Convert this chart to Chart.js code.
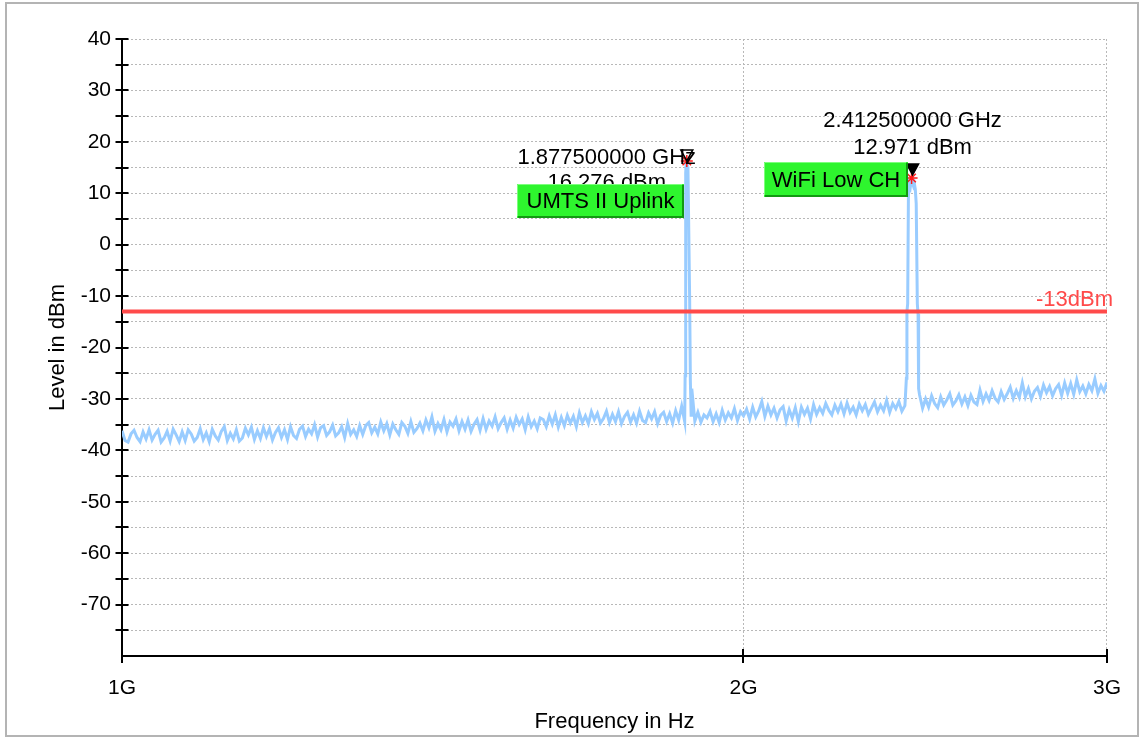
<!DOCTYPE html>
<html><head><meta charset="utf-8">
<script src="https://cdn.jsdelivr.net/npm/chart.js@4"></script>
<style>html,body{margin:0;padding:0;background:#fff;}canvas{display:block;}</style>
</head><body>
<canvas id="c" width="1141" height="740"></canvas>
<script>
// ---------- DATA ----------
const xTickValues = [1, 2, 3];            // GHz
const xTickLabels = ['1G', '2G', '3G'];
const yMin = -80, yMax = 40, yStep = 5;

// noise floor sweep segments (GHz start/stop, levels in dBm)
const seg1Start = 1.0, seg1Stop = 1.8731;
const seg1Levels = [
-36.2,-38.1,-38.4,-36.8,-36.1,-37.5,-38.3,-36.4,-37.8,-36.0,
-38.0,-36.9,-36.1,-38.4,-37.6,-36.3,-38.2,-35.9,-37.0,-38.3,
-36.4,-38.1,-36.0,-36.8,-38.2,-37.5,-35.8,-37.9,-36.6,-38.3,
-35.9,-37.2,-38.0,-36.3,-35.4,-38.1,-36.7,-37.8,-36.0,-38.2,
-37.6,-35.7,-37.0,-35.5,-37.9,-36.2,-37.7,-35.6,-37.3,-35.8,
-38.0,-36.5,-35.6,-37.5,-36.0,-37.9,-35.4,-37.1,-37.7,-35.9,
-35.3,-37.3,-35.9,-36.8,-35.0,-37.4,-35.6,-35.2,-37.1,-36.4,
-35.1,-37.2,-36.6,-35.4,-37.5,-34.8,-36.9,-36.0,-37.3,-35.2,
-36.9,-35.2,-34.6,-36.6,-35.5,-36.8,-34.5,-36.2,-34.8,-37.0,
-34.9,-36.0,-36.9,-34.6,-35.3,-36.7,-34.4,-36.5,-35.8,-34.7,
-36.2,-34.1,-35.6,-33.5,-36.3,-34.8,-36.0,-34.0,-36.4,-34.5,
-35.3,-33.9,-36.2,-34.4,-35.9,-34.1,-36.3,-34.9,-34.0,-36.1,
-33.8,-35.9,-34.3,-35.3,-33.5,-35.8,-34.6,-33.7,-35.9,-34.1,
-35.7,-33.6,-35.0,-33.9,-36.0,-33.5,-35.4,-34.3,-35.8,-33.7,
-34.0,-35.4,-33.3,-34.9,-33.1,-35.5,-33.6,-35.2,-33.2,-34.7,
-33.4,-35.4,
-32.7,-34.6,-33.3,-34.8,-32.5,-34.0,-32.8,-34.7,-33.8,-32.4,
-34.6,-33.0,-34.4,-32.5,-34.8,-33.4,-32.6,-34.5,-33.1,-34.7,
-32.4,-34.2,-34.6,-32.7,-33.9,-32.5,-34.8,-33.2,-32.6,-34.4,
-32.9,-34.7,-32.3,-34.1,-31.4,-34.4
];
const umtsFreqs  = [1.8740, 1.8752, 1.8763, 1.8775, 1.8788, 1.8800, 1.8835, 1.8850, 1.8866];
const umtsLevels = [-25.5,  14.0,   15.9,   16.276, 15.2,   14.5,   -10.5,  -26.5,  -33.2];

const seg2Start = 1.8880, seg2Stop = 2.3946;
const seg2Levels = [
-28.0,-34.3,-32.6,-34.5,-33.1,-33.7,-32.4,-34.4,-32.9,-34.6,
-32.2,-34.1,-32.7,-33.7,-31.9,-34.2,-32.5,-33.3,-32.0,-33.9,
-31.6,-33.5,-32.3,-30.5,-33.4,-31.4,-33.1,-31.8,-33.7,-32.1,
-31.5,-34.3,-32.1,-33.7,-31.7,-34.4,-31.6,-33.0,-31.8,-33.9,
-31.1,-33.0,-31.7,-32.8,-30.9,-32.2,-33.1,-31.2,-32.5,-31.0,
-32.9,-30.8,-32.6,-31.6,-33.1,-31.0,-32.3,-31.1,-33.0,-31.8,
-30.6,-32.5,-31.2,-32.3,-30.3,-32.6,-30.9,-31.9,-30.5,-32.4,-31.3
];
const wifiFreqs  = [2.3960, 2.3985, 2.4000, 2.4020, 2.4040, 2.4060, 2.4090, 2.4110, 2.4125, 2.4150, 2.4175, 2.4200, 2.4225, 2.4250, 2.4280, 2.4300, 2.4315];
const wifiLevels = [-29.5,  -26.0,  -13.0,  -11.5,  9.5,    11.8,   11.2,   12.3,   12.971, 12.0,   11.4,   11.9,   10.8,   8.0,    -11.5,  -13.5,  -28.0];

const seg3Start = 2.4340, seg3Stop = 3.0;
const seg3Levels = [
-29.2,-31.8,-30.0,-31.6,-29.4,-30.9,-31.7,-29.6,-31.2,-30.2,
-29.0,-31.2,-30.4,-29.2,-31.0,-29.6,-31.3,-29.3,-30.6,-31.1,
-28.3,-30.5,-29.0,-30.3,-28.4,-29.9,-30.6,-28.6,-30.1,-29.0,
-27.7,-29.9,-28.4,-29.7,-26.9,-29.6,-28.0,-30.0,-28.5,-27.8,
-29.5,-27.3,-28.8,-27.6,-29.4,-28.0,-27.2,-29.3,-26.9,-28.9,
-27.0,-29.1,-26.3,-28.6,-27.5,-29.0,-27.2,-28.4,-26.1,-28.9,-27.4,-28.5,-26.8
];

// limit line
const limitLevel = -13;
const limitLabel = '-13dBm';

// markers
const markerFreqs  = [1.8775, 2.4125];
const markerLevels = [16.276, 12.971];
const markerFreqText  = ['1.877500000 GHz', '2.412500000 GHz'];
const markerLevelText = ['16.276 dBm', '12.971 dBm'];
const markerNames  = ['UMTS II Uplink', 'WiFi Low CH'];

const xTitle = 'Frequency in Hz';
const yTitle = 'Level in dBm';

// ---------- STYLE ----------
const FONT = "'Liberation Sans', Arial, Helvetica, sans-serif";
const markerStyle = [
  {textDx: -80, l1Dy: -3,  l2Dy: 22,  boxDx: -170, boxDy: 23,  boxW: 167, boxH: 34, triDx: 0, triDy: 0,  triFilled: false},
  {textDx: 1,   l1Dy: -57, l2Dy: -30, boxDx: -148, boxDy: -16, boxW: 144, boxH: 35, triDx: 1, triDy: -3, triFilled: true}
];

// ---------- BUILD ----------
function sweep(start, stop, levels) {
  const n = levels.length;
  return levels.map((v, i) => ({x: start * Math.pow(stop / start, i / (n - 1)), y: v}));
}
function pairs(fs, ls) { return fs.map((f, i) => ({x: f, y: ls[i]})); }

const trace = [].concat(
  sweep(seg1Start, seg1Stop, seg1Levels),
  pairs(umtsFreqs, umtsLevels),
  sweep(seg2Start, seg2Stop, seg2Levels),
  pairs(wifiFreqs, wifiLevels),
  sweep(seg3Start, seg3Stop, seg3Levels)
);

const deco = {
  id: 'deco',
  beforeDraw(chart) {
    const c = chart.ctx;
    c.save();
    c.fillStyle = '#fff';
    c.fillRect(0, 0, chart.width, chart.height);
    c.strokeStyle = '#b4b4b4';
    c.lineWidth = 2;
    c.strokeRect(6, 3, 1132, 733);
    c.restore();
  },
  beforeDatasetsDraw(chart) {
    const c = chart.ctx, xs = chart.scales.x, ys = chart.scales.y, a = chart.chartArea;
    c.save();
    c.strokeStyle = '#000';
    c.lineWidth = 2;
    ys.ticks.forEach(t => {
      if (t.value === yMin) return;
      const y = Math.round(ys.getPixelForValue(t.value));
      c.beginPath(); c.moveTo(a.left - 6.5, y); c.lineTo(a.left + 6.5, y); c.stroke();
    });
    xs.ticks.forEach(t => {
      const x = Math.round(xs.getPixelForValue(t.value));
      c.beginPath(); c.moveTo(x, a.bottom - 7); c.lineTo(x, a.bottom + 7); c.stroke();
    });
    c.restore();
  },
  afterDatasetsDraw(chart) {
    const c = chart.ctx, xs = chart.scales.x, ys = chart.scales.y, a = chart.chartArea;
    c.save();
    // limit label
    const ly = ys.getPixelForValue(limitLevel);
    c.font = '22px ' + FONT;
    c.fillStyle = '#ff4a4a';
    c.textAlign = 'right';
    c.textBaseline = 'middle';
    c.fillText(limitLabel, a.right + 6, ly - 11.5);

    markerFreqs.forEach((f, i) => {
      const s = markerStyle[i];
      const px = xs.getPixelForValue(f), py = ys.getPixelForValue(markerLevels[i]);
      // triangle
      c.beginPath();
      c.moveTo(px + s.triDx - 6, py + s.triDy - 11);
      c.lineTo(px + s.triDx + 6, py + s.triDy - 11);
      c.lineTo(px + s.triDx, py + s.triDy);
      c.closePath();
      c.lineWidth = 1.5;
      c.strokeStyle = '#000';
      if (s.triFilled) { c.fillStyle = '#000'; c.fill(); }
      c.stroke();
      // text
      c.font = '22px ' + FONT;
      c.fillStyle = '#000';
      c.textAlign = 'center';
      c.textBaseline = 'middle';
      c.fillText(markerFreqText[i], px + s.textDx, py + s.l1Dy);
      c.fillText(markerLevelText[i], px + s.textDx, py + s.l2Dy);
      // green box
      const bx = Math.round(px + s.boxDx), by = Math.round(py + s.boxDy);
      c.fillStyle = '#2ef52e';
      c.fillRect(bx, by, s.boxW, s.boxH);
      c.strokeStyle = '#129a12';
      c.lineWidth = 2;
      c.beginPath();
      c.moveTo(bx + s.boxW - 1, by + 1); c.lineTo(bx + s.boxW - 1, by + s.boxH - 1); c.lineTo(bx + 1, by + s.boxH - 1);
      c.stroke();
      c.strokeStyle = '#7dff7d';
      c.lineWidth = 1;
      c.beginPath();
      c.moveTo(bx + 0.5, by + s.boxH - 2); c.lineTo(bx + 0.5, by + 0.5); c.lineTo(bx + s.boxW - 2, by + 0.5);
      c.stroke();
      c.fillStyle = '#000';
      c.fillText(markerNames[i], bx + s.boxW / 2, by + s.boxH / 2 + 1);
    });
    c.restore();
  }
};

new Chart(document.getElementById('c'), {
  type: 'line',
  data: {
    datasets: [
      {
        label: 'markers', type: 'scatter', data: pairs(markerFreqs, markerLevels),
        pointStyle: 'star', pointRadius: 6, pointBorderColor: '#ff1a1a', pointBorderWidth: 1.5,
        showLine: false, order: 0
      },
      {
        label: 'limit', data: [{x: xTickValues[0], y: limitLevel}, {x: xTickValues[xTickValues.length - 1], y: limitLevel}],
        borderColor: '#ff4a4a', borderWidth: 4, pointRadius: 0, order: 1
      },
      {
        label: 'trace', data: trace, borderColor: '#99ccff', borderWidth: 3,
        pointRadius: 0, tension: 0, order: 2
      }
    ]
  },
  options: {
    responsive: false,
    animation: false,
    events: [],
    layout: {padding: {top: 39, right: 34, left: 0, bottom: 0}},
    plugins: {legend: {display: false}, tooltip: {enabled: false}},
    scales: {
      x: {
        type: 'logarithmic',
        min: xTickValues[0], max: xTickValues[xTickValues.length - 1],
        afterBuildTicks(scale) { scale.ticks = xTickValues.map(v => ({value: v})); },
        afterFit(scale) { scale.height = 84; },
        ticks: {
          autoSkip: false, maxRotation: 0, padding: 20, color: '#000',
          font: {family: FONT, size: 21},
          callback(v) { const i = xTickValues.indexOf(v); return i >= 0 ? xTickLabels[i] : ''; }
        },
        grid: {color: '#b8b8b8', lineWidth: 1, drawTicks: false},
        border: {display: true, color: '#000', width: 2, dash: [2, 2]},
        title: {display: true, text: xTitle, color: '#000', font: {family: FONT, size: 22}, padding: 5}
      },
      y: {
        type: 'linear', min: yMin, max: yMax,
        afterFit(scale) { scale.width = 122; },
        ticks: {
          stepSize: yStep, autoSkip: false, padding: 11, color: '#000',
          font: {family: FONT, size: 21},
          callback(v) { return (v % 10 === 0 && v > yMin) ? String(v) : ''; }
        },
        grid: {color: '#b8b8b8', lineWidth: 1, drawTicks: false},
        border: {display: true, color: '#000', width: 2, dash: [2, 2]},
        title: {display: true, text: yTitle, color: '#000', font: {family: FONT, size: 22}, padding: 45}
      }
    }
  },
  plugins: [deco]
});
</script>
</body></html>
